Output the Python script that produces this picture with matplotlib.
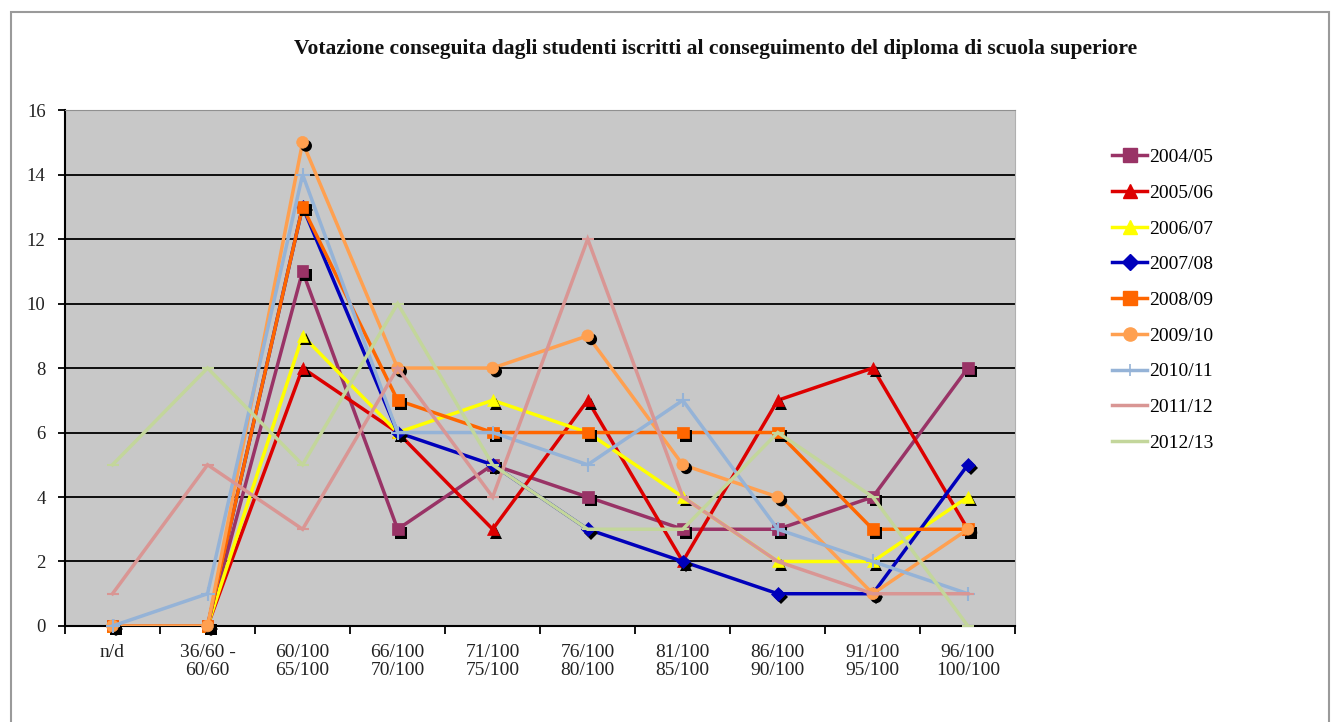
import matplotlib
matplotlib.use("Agg")
import matplotlib.pyplot as plt
import matplotlib.patheffects as pe
from matplotlib.patches import Rectangle
import numpy as np

plt.rcParams['font.family'] = ['Liberation Serif', 'DejaVu Serif']

categories = ["n/d", "36/60 -\n60/60", "60/100\n65/100", "66/100\n70/100", "71/100\n75/100",
              "76/100\n80/100", "81/100\n85/100", "86/100\n90/100", "91/100\n95/100", "96/100\n100/100"]

s2004_05 = [0, 0, 11, 3, 5, 4, 3, 3, 4, 8]
s2005_06 = [0, 0, 8, 6, 3, 7, 2, 7, 8, 3]
s2006_07 = [0, 0, 9, 6, 7, 6, 4, 2, 2, 4]
s2007_08 = [0, 0, 13, 6, 5, 3, 2, 1, 1, 5]
s2008_09 = [0, 0, 13, 7, 6, 6, 6, 6, 3, 3]
s2009_10 = [0, 0, 15, 8, 8, 9, 5, 4, 1, 3]
s2010_11 = [0, 1, 14, 6, 6, 5, 7, 3, 2, 1]
s2011_12 = [1, 5, 3, 8, 4, 12, 4, 2, 1, 1]
s2012_13 = [5, 8, 5, 10, 5, 3, 3, 6, 4, 0]

labels = ["2004/05", "2005/06", "2006/07", "2007/08", "2008/09", "2009/10", "2010/11", "2011/12", "2012/13"]
series = [s2004_05, s2005_06, s2006_07, s2007_08, s2008_09, s2009_10, s2010_11, s2011_12, s2012_13]
colors = ["#993366", "#DD0000", "#FFFF00", "#0000BB", "#FF6600", "#FFA050", "#95B3D7", "#D99694", "#C3D69B"]
markers = ["s", "^", "^", "D", "s", "o", "+", "_", "_"]
msizes = [8.5, 8.5, 8.5, 7, 8.5, 8.5, 10, 8, 8]

fig = plt.figure(figsize=(13.32, 7.22), dpi=100)
fig.patch.set_facecolor("white")
fig.patches.append(Rectangle((0.008, -0.01), 0.99, 0.994, transform=fig.transFigure,
                             fill=False, edgecolor="#9A9A9A", linewidth=1.5))

ax = fig.add_axes([0.0488, 0.133, 0.7135, 0.7145])
ax.set_facecolor("#C8C8C8")
x = np.arange(len(categories))

for i, y in enumerate(series):
    z = 3 + i * 0.1
    ax.plot(x, y, color=colors[i], linewidth=2.5, zorder=z, solid_joinstyle="miter")
    if markers[i] in ("+", "_"):
        ax.plot(x, y, linestyle="none", marker=markers[i], markersize=msizes[i],
                markeredgecolor=colors[i], markeredgewidth=1.5, zorder=z + 0.05, clip_on=False)
    else:
        ax.plot(x, y, linestyle="none", marker=markers[i], markersize=msizes[i],
                markerfacecolor=colors[i], markeredgecolor=colors[i], markeredgewidth=0.5, zorder=z + 0.05,
                clip_on=False,
                path_effects=[pe.SimplePatchShadow(offset=(2.5, -2.5), shadow_rgbFace="black", alpha=1.0),
                              pe.Normal()])

ax.set_xlim(-0.5, len(categories) - 0.5)
ax.set_ylim(0, 16)
ax.set_yticks(np.arange(0, 17, 2))
ax.yaxis.grid(True, color="black", linewidth=1.3)
ax.set_axisbelow(True)
ax.set_xticks(x)
ax.set_xticklabels(categories, fontsize=14, linespacing=1.1)
ax.set_xticks(np.arange(-0.5, len(categories), 1), minor=True)
ax.tick_params(axis="x", which="major", length=0, pad=13)
ax.tick_params(axis="x", which="minor", length=6, width=1.3, direction="out", color="black")
ax.tick_params(axis="y", labelsize=13.5, length=5, width=1.3, color="black", pad=9)
for lab in ax.get_yticklabels():
    lab.set_color("#222222")
for lab in ax.get_xticklabels():
    lab.set_color("#222222")

ax.spines["bottom"].set_color("black")
ax.spines["bottom"].set_linewidth(1.5)
ax.spines["left"].set_color("black")
ax.spines["left"].set_linewidth(1.5)
ax.spines["top"].set_color("#909090")
ax.spines["right"].set_color("#B0B0B0")

fig.text(0.537, 0.932, "Votazione conseguita dagli studenti iscritti al conseguimento del diploma di scuola superiore",
         ha="center", va="center", fontsize=15.5, fontweight="bold", color="#111111")

handles = []
for i in range(len(series)):
    if markers[i] in ("+", "_"):
        h, = ax.plot([], [], color=colors[i], linewidth=2.5,
                     marker="+" if markers[i] == "+" else None, markersize=9, markeredgewidth=1.2)
    else:
        h, = ax.plot([], [], color=colors[i], linewidth=2.5, marker=markers[i],
                     markersize=msizes[i] + 1, markerfacecolor=colors[i], markeredgecolor=colors[i])
    handles.append(h)

leg = fig.legend(handles, labels, loc="upper left", bbox_to_anchor=(0.829, 0.805),
                 frameon=False, fontsize=14, handlelength=1.8, handletextpad=0.1,
                 labelspacing=0.93, borderaxespad=0)

fig.savefig("out.png", dpi=100, facecolor="white")
